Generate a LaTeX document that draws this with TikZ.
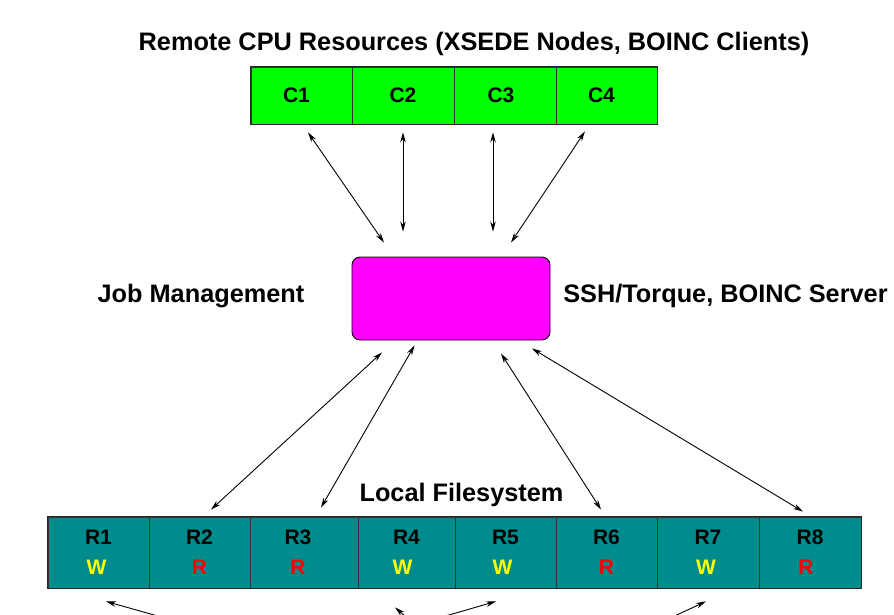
\documentclass[tikz,border=0pt]{standalone}
\usepackage{fontspec}
\setmainfont{Liberation Sans}
\usetikzlibrary{arrows.meta,calc}
\definecolor{cgreen}{RGB}{0,255,0}
\definecolor{cmag}{RGB}{255,0,255}
\definecolor{cteal}{RGB}{0,140,140}
\definecolor{cyel}{RGB}{255,255,0}
\definecolor{cred}{RGB}{255,0,0}
\begin{document}
\begin{tikzpicture}[x=1pt,y=-1pt,
  bigtext/.style={font=\fontsize{25.3}{30}\selectfont\bfseries,anchor=base,inner sep=0pt},
  ccell/.style={draw=black!80,line width=0.8pt,fill=cgreen,minimum height=57pt,inner sep=0pt,font=\fontsize{21}{25}\selectfont\bfseries},
  rcell/.style={draw=black!80,line width=0.8pt,fill=cteal,minimum height=71pt,inner sep=0pt,align=center,font=\fontsize{21}{30}\selectfont\bfseries},
  jobbox/.style={draw=black,line width=0.9pt,fill=cmag,rounded corners=8pt,minimum width=198pt,minimum height=83pt},
  arr/.style={line width=0.9pt,{Stealth[length=10pt,width=5.5pt]}-{Stealth[length=10pt,width=5.5pt]}}]
\useasboundingbox (0,0) rectangle (894,614);
\clip (0,0) rectangle (894,614);
\fill[white] (0,0) rectangle (894,614);

% texts
\node[bigtext] (title) at (474,50) {Remote CPU Resources (XSEDE Nodes, BOINC Clients)};
\node[bigtext] (jm) at (201,302) {Job Management};
\node[bigtext] (ssh) at (725.5,302) {SSH/Torque, BOINC Server};
\node[bigtext] (lfs) at (461.5,501) {Local Filesystem};

% green cells
\node[ccell,minimum width=101pt] (c1) at (301.5,95.5) {C1\kern10pt};
\node[ccell,minimum width=102pt] (c2) at (403,95.5) {C2};
\node[ccell,minimum width=102pt] (c3) at (505,95.5) {C3\kern8pt};
\node[ccell,minimum width=101pt] (c4) at (606.5,95.5) {C4\kern10pt};
\draw[line width=1.3pt,black!85] (c1.north west) rectangle (c4.south east);

% job box
\node[jobbox] (job) at (451,298.5) {};

% R cells
\node[rcell,minimum width=101pt] (r1) at (98.5,552.5) {R1\\\color{cyel}W\hspace*{4pt}};
\node[rcell,minimum width=101pt] (r2) at (199.5,552.5) {R2\\\color{cred}R};
\node[rcell,minimum width=108pt] (r3) at (304,552.5) {R3\hspace*{12pt}\\\color{cred}R\hspace*{12pt}};
\node[rcell,minimum width=97pt] (r4) at (406.5,552.5) {R4\\\color{cyel}W\hspace*{8pt}};
\node[rcell,minimum width=101pt] (r5) at (505.5,552.5) {R5\\\color{cyel}W\hspace*{6pt}};
\node[rcell,minimum width=101pt] (r6) at (606.5,552.5) {R6\\\color{cred}R};
\node[rcell,minimum width=102pt] (r7) at (708,552.5) {R7\\\color{cyel}W\hspace*{4pt}};
\node[rcell,minimum width=102pt] (r8) at (810,552.5) {R8\\\color{cred}R\hspace*{8pt}};
\draw[line width=1.5pt,black!85] (r1.north west) rectangle (r8.south east);

% arrows C <-> job
\draw[arr] ($(c1.south)+(6.5,8)$) -- ($(job.north)+(-67,-14)$);
\draw[arr] ($(c2.south)+(0,8)$) -- ($(job.north)+(-48,-25)$);
\draw[arr] ($(c3.south)+(-12,8)$) -- ($(job.north)+(42,-25)$);
\draw[arr] ($(c4.south)+(-21.5,7)$) -- ($(job.north)+(60,-14)$);

% arrows job <-> R
\draw[arr] ($(job.south)+(-69,12)$) -- ($(r2.north)+(11.5,-7)$);
\draw[arr] ($(job.south)+(-36.5,5)$) -- ($(r3.north)+(17,-9)$);
\draw[arr] ($(job.south)+(50,13)$) -- ($(r6.north)+(-5.5,-7)$);
\draw[arr] ($(job.south)+(81,8)$) -- ($(r8.north)+(-7,-5)$);

% arrows below (cut off)
\coordinate (e1) at ($(r1.south)+(7.5,13)+(92,26)$);
\coordinate (e2) at ($(r4.south)+(-11.5,19)+(24,21)$);
\coordinate (e3) at ($(r5.south)+(-9.5,13)+(-90,26)$);
\coordinate (e4) at ($(r7.south)+(-2,13)+(-56,26)$);
\draw[arr] ($(r1.south)+(7.5,13)$) -- (e1);
\draw[arr] ($(r4.south)+(-11.5,19)$) -- (e2);
\draw[arr] ($(r5.south)+(-9.5,13)$) -- (e3);
\draw[arr] ($(r7.south)+(-2,13)$) -- (e4);
\end{tikzpicture}
\end{document}
